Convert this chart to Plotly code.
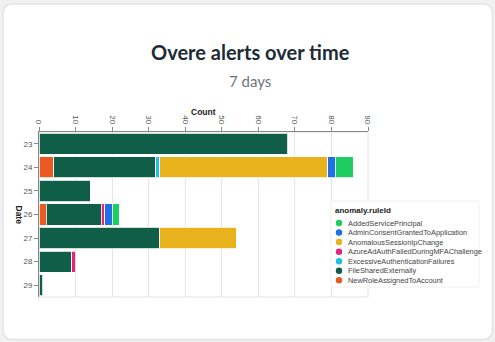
import plotly.graph_objects as go

dates = ["23", "24", "25", "26", "27", "28", "29"]
rule_ids = [
    "AddedServicePrincipal",
    "AdminConsentGrantedToApplication",
    "AnomalousSessionIpChange",
    "AzureAdAuthFailedDuringMFAChallenge",
    "ExcessiveAuthenticationFailures",
    "FileSharedExternally",
    "NewRoleAssignedToAccount",
]
added_service_principal = [0, 5, 0, 2, 0, 0, 0]
admin_consent = [0, 2, 0, 2, 0, 0, 0]
anomalous_session = [0, 46, 0, 0, 21, 0, 0]
azure_ad_mfa = [0, 0, 0, 1, 0, 1, 0]
excessive_auth = [0, 1, 0, 0, 0, 0, 0]
file_shared = [68, 28, 14, 15, 33, 9, 1]
new_role = [0, 4, 0, 2, 0, 0, 0]
x_ticks = [0, 10, 20, 30, 40, 50, 60, 70, 80, 90]

series = {
    "AddedServicePrincipal": added_service_principal,
    "AdminConsentGrantedToApplication": admin_consent,
    "AnomalousSessionIpChange": anomalous_session,
    "AzureAdAuthFailedDuringMFAChallenge": azure_ad_mfa,
    "ExcessiveAuthenticationFailures": excessive_auth,
    "FileSharedExternally": file_shared,
    "NewRoleAssignedToAccount": new_role,
}
colors = {
    "AddedServicePrincipal": "#1fcc62",
    "AdminConsentGrantedToApplication": "#1f6fe8",
    "AnomalousSessionIpChange": "#e8b21c",
    "AzureAdAuthFailedDuringMFAChallenge": "#e8237a",
    "ExcessiveAuthenticationFailures": "#1fc0e8",
    "FileSharedExternally": "#115e48",
    "NewRoleAssignedToAccount": "#e85a1f",
}

W, H = 495, 342
ML, MR, MT, MB = 39, 127, 132, 45
PW = W - ML - MR
PH = H - MT - MB

def px(x):
    return (x - ML) / PW

def py(y):
    return (H - MB - y) / PH

fig = go.Figure()
for rid in reversed(rule_ids):
    vals = [v if v else None for v in series[rid]]
    fig.add_trace(go.Bar(
        y=dates, x=vals, name=rid, orientation="h", showlegend=False,
        marker=dict(color=colors[rid], line=dict(color="rgba(255,255,255,0.8)", width=1)),
    ))

# card
x0, x1, y0, y1 = px(3), px(492.5), py(4), py(339.5)
rx, ry = 10 / PW, 10 / PH
path = (f"M {x0+rx},{y0} L {x1-rx},{y0} Q {x1},{y0} {x1},{y0-ry} "
        f"L {x1},{y1+ry} Q {x1},{y1} {x1-rx},{y1} L {x0+rx},{y1} "
        f"Q {x0},{y1} {x0},{y1+ry} L {x0},{y0-ry} Q {x0},{y0} {x0+rx},{y0} Z")
shapes = [
    dict(type="path", path=path, xref="paper", yref="paper", layer="below",
         fillcolor="white", line=dict(color="#e4e4e4", width=1.5)),
    dict(type="rect", x0=0, x1=1, y0=0, y1=1, xref="paper", yref="paper",
         layer="below", line=dict(color="#e2e2e2", width=1)),
    # legend box
    dict(type="rect", x0=px(331), x1=px(479), y0=py(201), y1=py(287), xref="paper", yref="paper",
         layer="above", fillcolor="white", line=dict(color="#f0f0f0", width=1)),
]

annotations = [
    dict(text="<b>Overe alerts over time</b>", x=px(250), y=py(52), xref="paper", yref="paper",
         showarrow=False, font=dict(family="Lato", size=20, color="#1d2b36"), xanchor="center", yanchor="middle"),
    dict(text="7 days", x=px(250), y=py(81), xref="paper", yref="paper",
         showarrow=False, font=dict(family="Lato", size=15, color="#6b7780"), xanchor="center", yanchor="middle"),
    dict(text="<b>Count</b>", x=0.5, y=py(112), xref="paper", yref="paper",
         showarrow=False, font=dict(family="Liberation Sans", size=8.5, color="#222"), xanchor="center", yanchor="middle"),
    dict(text="<b>Date</b>", x=px(19), y=0.5, xref="paper", yref="paper", textangle=90,
         showarrow=False, font=dict(family="Liberation Sans", size=8.5, color="#222"), xanchor="center", yanchor="middle"),
    dict(text="<b>anomaly.ruleId</b>", x=px(333), y=py(210), xref="paper", yref="paper",
         showarrow=False, font=dict(family="Liberation Sans", size=8, color="#222"), xanchor="left", yanchor="middle"),
]
legend_y = [223, 232.5, 242, 251.7, 261.3, 270.7, 280.3]
r_x, r_y = 3.2 / PW, 3.2 / PH
for rid, ly in zip(rule_ids, legend_y):
    cx, cy = px(339), py(ly)
    shapes.append(dict(type="circle", xref="paper", yref="paper", layer="above",
                       x0=cx - r_x, x1=cx + r_x, y0=cy - r_y, y1=cy + r_y,
                       fillcolor=colors[rid], line=dict(width=0)))
    annotations.append(dict(text=rid, x=px(345.5), y=cy, xref="paper", yref="paper",
                            showarrow=False, font=dict(family="Liberation Sans", size=7.4, color="#444"),
                            xanchor="left", yanchor="middle"))

fig.update_layout(
    width=W, height=H,
    margin=dict(l=ML, r=MR, t=MT, b=MB, pad=0, autoexpand=False),
    paper_bgcolor="#f1f1f1", plot_bgcolor="rgba(0,0,0,0)",
    barmode="stack", bargap=0.1,
    shapes=shapes, annotations=annotations,
    font=dict(family="Liberation Sans", size=8, color="#555"),
    xaxis=dict(side="top", range=[0, 90], tickvals=x_ticks, tickangle=90,
               showline=True, linecolor="#888", linewidth=1, ticks="outside", ticklen=4,
               tickcolor="#888", gridcolor="#e6e6e6", gridwidth=1, zeroline=False,
               tickfont=dict(size=8, color="#555")),
    yaxis=dict(type="category", categoryorder="array", categoryarray=dates, autorange="reversed",
               showline=True, linecolor="#888", linewidth=1, ticks="outside", ticklen=4,
               tickcolor="#888", showgrid=False, tickfont=dict(size=8, color="#555")),
    showlegend=False,
)

fig.write_html("out.html")
